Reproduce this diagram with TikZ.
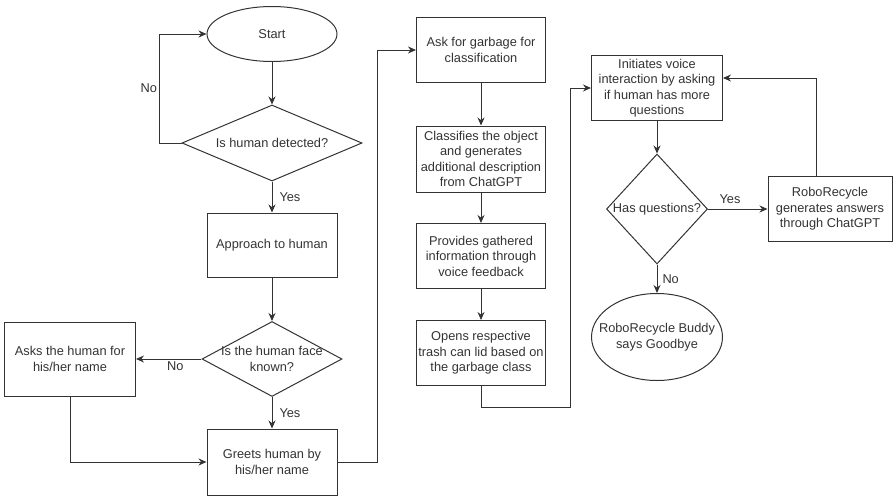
\documentclass[tikz,border=0pt]{standalone}
\usepackage{fontspec}
\setmainfont{Liberation Sans}
\usetikzlibrary{shapes.geometric,arrows.meta,positioning}
\tikzset{
  process/.style={rectangle,draw=black!80,line width=1pt,minimum width=130,minimum height=65,align=center,inner sep=1pt},
  terminal/.style={ellipse,draw=black!80,line width=1pt,inner sep=0pt},
  decision/.style={diamond,draw=black!80,line width=1pt,inner sep=0pt},
  link/.style={-{Stealth[length=8pt,width=7pt]},draw=black!80,line width=1pt},
  lbl/.style={text=black!80,inner sep=2pt}
}

\begin{document}
\begin{tikzpicture}[x=1pt,y=-1pt,font=\fontsize{12.8}{15.5}\selectfont,text=black!80]
\useasboundingbox (0,0) rectangle (894,496);
% first column
\node[terminal,minimum width=130,minimum height=55] (start) at (272,34) {Start};
\node[decision,minimum width=180,minimum height=76,label=center:{Is human detected?}] (detect) at (272,143) {};
\node[process,minimum height=64] (approach) at (272,245) {Approach to human};
\node[decision,minimum width=140,minimum height=75,label={[align=center]center:Is the human face\\known?}] (face) at (272,359) {};
\node[process,minimum width=131,minimum height=74] (asks) at (70,359) {Asks the human for\\his/her name};
\node[process,minimum height=66] (greet) at (272,462) {Greets human by\\his/her name};
% second column
\node[process,minimum width=129] (ask) at (481,50) {Ask for garbage for\\classification};
\node[process,minimum width=129,minimum height=66] (classify) at (481,159) {Classifies the object\\and generates\\additional description\\from ChatGPT};
\node[process,minimum width=129] (provide) at (481,256) {Provides gathered\\information through\\voice feedback};
\node[process,minimum width=129] (opens) at (481,353) {Opens respective\\trash can lid based on\\the garbage class};
% third column
\node[process,minimum width=131] (init) at (657,88) {Initiates voice\\interaction by asking\\if human has more\\questions};
\node[decision,minimum width=101,minimum height=110,label=center:{Has questions?}] (question) at (657,209) {};
\node[terminal,minimum width=131,minimum height=87,label={[align=center]center:RoboRecycle Buddy\\says Goodbye}] (bye) at (657,337) {};
\node[process,minimum width=124] (robo) at (830,209) {RoboRecycle\\generates answers\\through ChatGPT};
\coordinate (turn) at (570,407);

\draw[link] (start) -- (detect);
\draw[link] (detect.west) -- ++(-22,0) |- node[pos=0.25,left,lbl]{No} (start.west);
\draw[link] (detect) -- node[right=5pt,lbl]{Yes} (approach);
\draw[link] (approach) -- (face);
\draw[link] (face) -- node[pos=0.4,below,lbl]{No} (asks);
\draw[link] (face) -- node[right=5pt,lbl]{Yes} (greet);
\draw[link] (asks.south) |- (greet.west);
\draw[link] (greet.east) -- ++(40,0) |- (ask.west);
\draw[link] (ask) -- (classify);
\draw[link] (classify) -- (provide);
\draw[link] (provide) -- (opens);
\draw[link] (opens.south) |- (turn) |- (init.west);
\draw[link] (init) -- (question);
\draw[link] (question) -- node[pos=0.37,above=3pt,lbl]{Yes} (robo);
\draw[link] (question) -- node[right=3pt,lbl]{No} (bye);
\draw[link] ([xshift=-14pt]robo.north) |- ([yshift=10pt]init.east);
\end{tikzpicture}
\end{document}
